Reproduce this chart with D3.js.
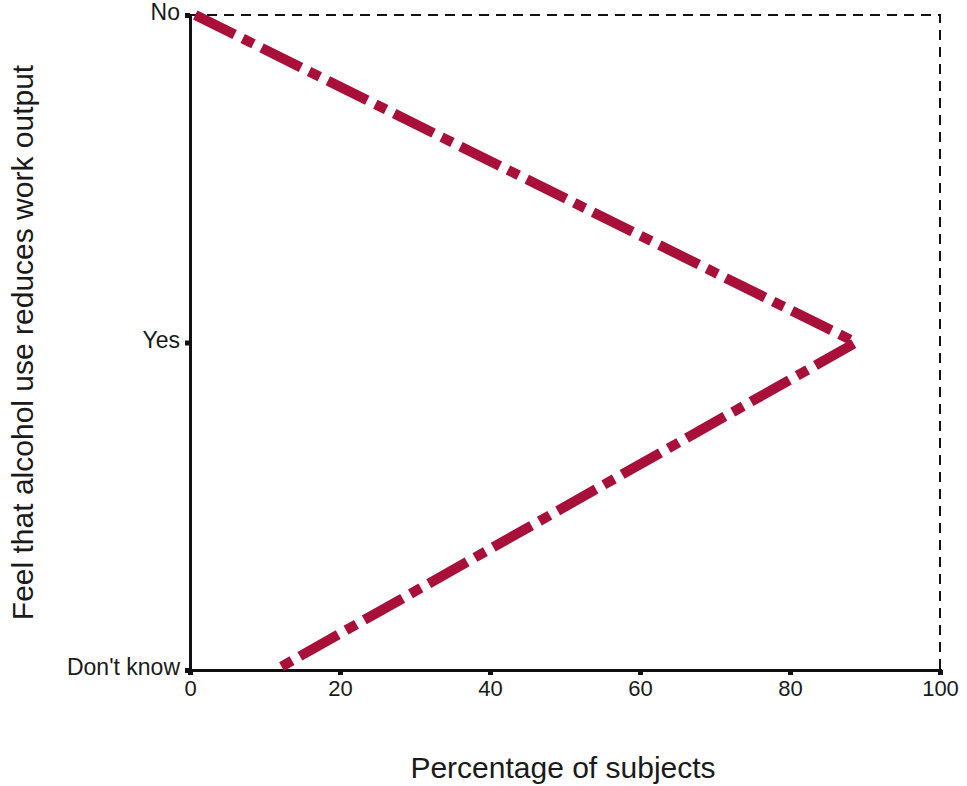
<!DOCTYPE html>
<html><head><meta charset="utf-8">
<script src="https://cdn.jsdelivr.net/npm/d3@7"></script>
<style>body{margin:0;background:#fff}svg{display:block}text{font-family:"Liberation Sans",Arial,sans-serif}</style>
</head><body><svg id="c" width="967" height="786"></svg>
<script>
const categories = ["No", "Yes", "Don't know"];
const percentages = [0.7, 88.8, 11.4];
const xTicks = [0, 20, 40, 60, 80, 100];
const xTitle = "Percentage of subjects";
const yTitle = "Feel that alcohol use reduces work output";

const svg = d3.select("#c");
const L = 190, R = 940, T = 15, B = 670;
const x = d3.scaleLinear().domain([0, 100]).range([L, R]);
const y = d3.scalePoint().domain(categories).range([T, B]);

// dashed frame top/right
svg.append("path").attr("d", `M${L},${T}H${R}V${B}`).attr("fill","none")
  .attr("stroke","#111").attr("stroke-width",2).attr("stroke-dasharray","10,7");

// x axis
const xa = svg.append("g").attr("transform",`translate(0,${B})`)
  .call(d3.axisBottom(x).tickValues(xTicks).tickSize(5).tickPadding(5));
xa.select(".domain").attr("stroke","#111").attr("stroke-width",3);
xa.selectAll(".tick line").attr("stroke","#111").attr("stroke-width",5);
xa.selectAll("text").attr("font-size",22).attr("fill","#1a1a1a");

// y axis
const ya = svg.append("g").attr("transform",`translate(${L},0)`)
  .call(d3.axisLeft(y).tickSize(5).tickPadding(5));
ya.select(".domain").attr("stroke","#111").attr("stroke-width",3);
ya.selectAll(".tick line").attr("stroke","#111").attr("stroke-width",5);
ya.selectAll("text").attr("font-size",23).attr("fill","#1a1a1a").attr("dy","0.2em");

// line
const pts = categories.map((c,i)=>[x(percentages[i]), y(c)]);
svg.append("path").attr("d", d3.line()(pts)).attr("fill","none")
  .attr("stroke","#a8103a").attr("stroke-width",10)
  .attr("stroke-dasharray","44,9,12,9").attr("stroke-linejoin","miter");

svg.append("text").attr("x",(L+R)/2 - 2).attr("y",778).attr("text-anchor","middle")
  .attr("font-size",30).attr("fill","#1a1a1a").text(xTitle);
svg.append("text").attr("transform",`translate(33,${(T+B)/2}) rotate(-90)`)
  .attr("text-anchor","middle").attr("font-size",30).attr("fill","#1a1a1a").text(yTitle);
</script></body></html>
